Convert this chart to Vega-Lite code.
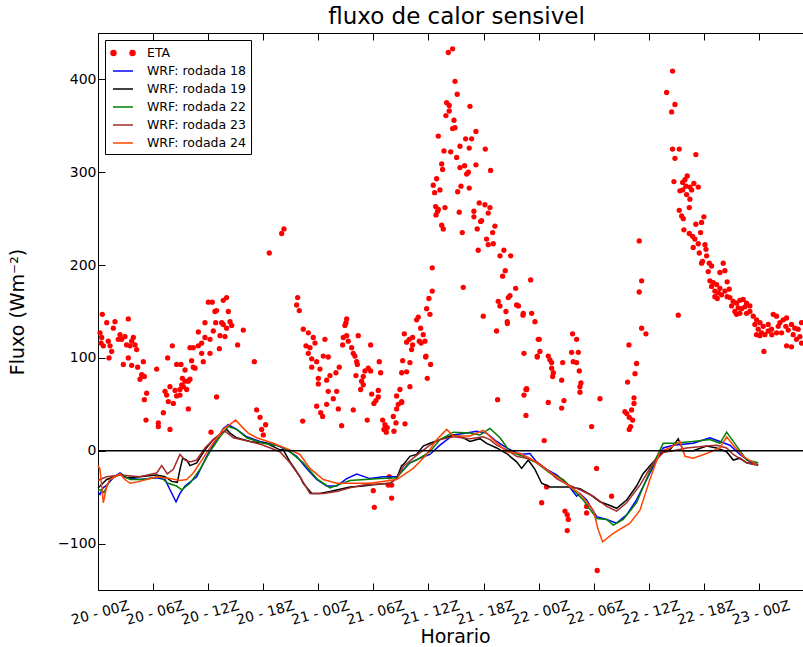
{
"$schema": "https://vega.github.io/schema/vega-lite/v6.json",
"width": 705, "height": 557,
"autosize": {"type": "none"},
"padding": {"left": 98, "top": 33, "right": 0, "bottom": 57},
"background": "white",
"title": {"text": "fluxo de calor sensivel", "fontSize": 23, "font": "DejaVu Sans", "fontWeight": "normal", "color": "black", "offset": 4, "dx": 6},
"config": {
  "font": "DejaVu Sans",
  "view": {"stroke": null},
  "axis": {"domainColor": "black", "domainWidth": 1, "tickColor": "black", "tickSize": -7, "tickWidth": 1, "grid": false, "labelColor": "black", "labelFontSize": 14, "titleColor": "black", "titleFontSize": 19, "titleFontWeight": "normal", "labelFont": "DejaVu Sans", "titleFont": "DejaVu Sans"},
  "legend": {"padding": 4, "symbolOffset": 5, "strokeColor": "black", "fillColor": "white", "cornerRadius": 0, "strokeWidth": 1, "labelFontSize": 12.5, "labelFont": "DejaVu Sans", "labelColor": "black", "symbolSize": 256, "labelOffset": 15, "rowPadding": 2, "symbolStrokeWidth": 1.5, "symbolType": "stroke"}
},
"datasets": {
"eta": [
{"hora":0.47,"fluxo":147},{"hora":0.22,"fluxo":127},{"hora":0.40,"fluxo":122},{"hora":0.33,"fluxo":116},{"hora":0.58,"fluxo":113},{"hora":1.12,"fluxo":118},{"hora":1.31,"fluxo":113},{"hora":1.49,"fluxo":107},{"hora":1.20,"fluxo":100},{"hora":0.95,"fluxo":138},{"hora":1.85,"fluxo":139},{"hora":1.67,"fluxo":132},{"hora":2.40,"fluxo":125},{"hora":2.21,"fluxo":120},{"hora":2.58,"fluxo":120},{"hora":2.94,"fluxo":123},{"hora":3.30,"fluxo":142},{"hora":3.12,"fluxo":114},{"hora":3.49,"fluxo":113},{"hora":3.67,"fluxo":118},{"hora":3.85,"fluxo":122},{"hora":4.03,"fluxo":114},{"hora":4.21,"fluxo":109},{"hora":3.30,"fluxo":100},{"hora":2.76,"fluxo":93},{"hora":3.67,"fluxo":92},{"hora":4.32,"fluxo":90},{"hora":4.94,"fluxo":96},{"hora":4.76,"fluxo":82},{"hora":5.05,"fluxo":80},{"hora":4.57,"fluxo":77},{"hora":5.30,"fluxo":62},{"hora":5.05,"fluxo":55},{"hora":5.23,"fluxo":33},{"hora":6.57,"fluxo":30},{"hora":6.57,"fluxo":26},{"hora":7.84,"fluxo":23},{"hora":7.12,"fluxo":41},{"hora":6.39,"fluxo":88},{"hora":7.59,"fluxo":100},{"hora":8.10,"fluxo":113},{"hora":8.57,"fluxo":93},{"hora":9.04,"fluxo":93},{"hora":9.48,"fluxo":87},{"hora":9.19,"fluxo":78},{"hora":9.48,"fluxo":75},{"hora":9.84,"fluxo":75},{"hora":9.30,"fluxo":69},{"hora":8.93,"fluxo":66},{"hora":8.39,"fluxo":65},{"hora":7.84,"fluxo":69},{"hora":7.30,"fluxo":64},{"hora":7.48,"fluxo":60},{"hora":7.66,"fluxo":53},{"hora":8.21,"fluxo":51},{"hora":8.57,"fluxo":59},{"hora":8.93,"fluxo":60},{"hora":9.12,"fluxo":71},{"hora":9.66,"fluxo":66},{"hora":10.02,"fluxo":77},{"hora":10.20,"fluxo":97},{"hora":10.38,"fluxo":90},{"hora":10.57,"fluxo":89},{"hora":10.02,"fluxo":111},{"hora":10.38,"fluxo":111},{"hora":10.93,"fluxo":113},{"hora":11.29,"fluxo":105},{"hora":11.47,"fluxo":96},{"hora":11.29,"fluxo":116},{"hora":11.65,"fluxo":122},{"hora":10.93,"fluxo":128},{"hora":11.65,"fluxo":138},{"hora":12.20,"fluxo":120},{"hora":12.56,"fluxo":129},{"hora":12.20,"fluxo":105},{"hora":12.02,"fluxo":160},{"hora":12.45,"fluxo":160},{"hora":12.92,"fluxo":151},{"hora":12.74,"fluxo":150},{"hora":12.82,"fluxo":138},{"hora":13.47,"fluxo":138},{"hora":13.65,"fluxo":136},{"hora":14.01,"fluxo":132},{"hora":14.38,"fluxo":139},{"hora":14.20,"fluxo":150},{"hora":13.65,"fluxo":162},{"hora":14.01,"fluxo":165},{"hora":14.56,"fluxo":135},{"hora":13.29,"fluxo":124},{"hora":13.83,"fluxo":123},{"hora":13.22,"fluxo":110},{"hora":15.21,"fluxo":114},{"hora":15.83,"fluxo":130},{"hora":17.03,"fluxo":96},{"hora":12.92,"fluxo":58},{"hora":9.84,"fluxo":45},{"hora":12.31,"fluxo":20},{"hora":17.28,"fluxo":44},{"hora":17.65,"fluxo":36},{"hora":18.26,"fluxo":28},{"hora":17.83,"fluxo":23},{"hora":18.01,"fluxo":17},
{"hora":18.66,"fluxo":213},{"hora":20.01,"fluxo":234},{"hora":20.26,"fluxo":239},{"hora":21.75,"fluxo":165},{"hora":21.64,"fluxo":157},{"hora":21.93,"fluxo":151},{"hora":22.36,"fluxo":131},{"hora":22.91,"fluxo":127},{"hora":23.45,"fluxo":122},{"hora":23.64,"fluxo":116},{"hora":22.66,"fluxo":113},{"hora":23.09,"fluxo":111},{"hora":22.91,"fluxo":105},{"hora":23.28,"fluxo":99},{"hora":23.82,"fluxo":96},{"hora":23.28,"fluxo":90},{"hora":24.18,"fluxo":88},{"hora":24.54,"fluxo":102},{"hora":25.08,"fluxo":101},{"hora":24.72,"fluxo":120},{"hora":24.00,"fluxo":78},{"hora":24.00,"fluxo":72},{"hora":24.91,"fluxo":76},{"hora":25.27,"fluxo":81},{"hora":25.08,"fluxo":64},{"hora":26.00,"fluxo":64},{"hora":25.63,"fluxo":56},{"hora":24.91,"fluxo":50},{"hora":23.82,"fluxo":48},{"hora":24.26,"fluxo":41},{"hora":24.47,"fluxo":37},{"hora":22.30,"fluxo":32},{"hora":26.18,"fluxo":45},{"hora":26.54,"fluxo":27},{"hora":26.28,"fluxo":90},{"hora":25.92,"fluxo":84},{"hora":27.09,"fluxo":142},{"hora":27.01,"fluxo":138},{"hora":26.90,"fluxo":135},{"hora":27.09,"fluxo":124},{"hora":26.72,"fluxo":122},{"hora":26.65,"fluxo":114},{"hora":27.26,"fluxo":118},{"hora":28.35,"fluxo":124},{"hora":27.63,"fluxo":111},{"hora":27.81,"fluxo":105},{"hora":27.99,"fluxo":102},{"hora":28.18,"fluxo":96},{"hora":28.25,"fluxo":93},{"hora":28.10,"fluxo":81},{"hora":28.90,"fluxo":80},{"hora":29.08,"fluxo":86},{"hora":29.44,"fluxo":89},{"hora":29.70,"fluxo":114},{"hora":29.70,"fluxo":86},{"hora":28.72,"fluxo":75},{"hora":28.61,"fluxo":66},{"hora":28.90,"fluxo":71},{"hora":27.81,"fluxo":44},{"hora":29.33,"fluxo":33},{"hora":29.81,"fluxo":61},{"hora":30.06,"fluxo":51},{"hora":30.28,"fluxo":54},{"hora":30.53,"fluxo":65},{"hora":30.53,"fluxo":58},{"hora":30.64,"fluxo":96},{"hora":30.79,"fluxo":84},{"hora":31.01,"fluxo":33},{"hora":31.26,"fluxo":28},{"hora":31.15,"fluxo":23},{"hora":31.51,"fluxo":25},{"hora":31.40,"fluxo":20},{"hora":32.24,"fluxo":21},{"hora":32.46,"fluxo":30},{"hora":32.17,"fluxo":37},{"hora":32.53,"fluxo":45},{"hora":32.71,"fluxo":50},{"hora":32.53,"fluxo":59},{"hora":32.89,"fluxo":66},{"hora":33.08,"fluxo":52},{"hora":33.44,"fluxo":29},{"hora":33.98,"fluxo":69},{"hora":33.08,"fluxo":84},{"hora":33.62,"fluxo":85},{"hora":33.19,"fluxo":97},{"hora":33.98,"fluxo":95},{"hora":33.37,"fluxo":126},{"hora":33.62,"fluxo":117},{"hora":33.91,"fluxo":120},{"hora":34.27,"fluxo":122},{"hora":34.27,"fluxo":114},{"hora":34.16,"fluxo":109},{"hora":34.71,"fluxo":141},{"hora":34.89,"fluxo":144},{"hora":35.15,"fluxo":132},{"hora":35.43,"fluxo":125},{"hora":35.62,"fluxo":118},{"hora":35.73,"fluxo":102},{"hora":35.80,"fluxo":153},{"hora":35.87,"fluxo":78},{"hora":35.20,"fluxo":116},{"hora":35.00,"fluxo":118},
{"hora":29.99,"fluxo":-43},{"hora":31.99,"fluxo":-51},{"hora":30.10,"fluxo":-61},{"hora":31.62,"fluxo":-37},{"hora":31.99,"fluxo":-37},{"hora":31.73,"fluxo":-28},
{"hora":38.16,"fluxo":429},{"hora":38.63,"fluxo":433},{"hora":38.89,"fluxo":398},{"hora":39.13,"fluxo":384},{"hora":40.52,"fluxo":371},{"hora":37.98,"fluxo":375},{"hora":38.26,"fluxo":372},{"hora":37.90,"fluxo":361},{"hora":38.26,"fluxo":366},{"hora":38.78,"fluxo":356},{"hora":38.63,"fluxo":347},{"hora":38.89,"fluxo":348},{"hora":41.17,"fluxo":344},{"hora":37.07,"fluxo":339},{"hora":40.05,"fluxo":336},{"hora":40.70,"fluxo":336},{"hora":39.43,"fluxo":328},{"hora":40.44,"fluxo":326},{"hora":42.19,"fluxo":325},{"hora":37.69,"fluxo":323},{"hora":38.42,"fluxo":322},{"hora":39.07,"fluxo":316},{"hora":37.44,"fluxo":309},{"hora":37.54,"fluxo":303},{"hora":39.43,"fluxo":305},{"hora":39.94,"fluxo":307},{"hora":41.17,"fluxo":308},{"hora":40.34,"fluxo":300},{"hora":40.16,"fluxo":298},{"hora":42.77,"fluxo":302},{"hora":36.89,"fluxo":293},{"hora":36.52,"fluxo":286},{"hora":37.25,"fluxo":281},{"hora":36.67,"fluxo":278},{"hora":39.54,"fluxo":285},{"hora":40.44,"fluxo":283},{"hora":39.18,"fluxo":279},{"hora":41.53,"fluxo":267},{"hora":42.15,"fluxo":265},{"hora":42.70,"fluxo":262},{"hora":42.51,"fluxo":256},{"hora":40.95,"fluxo":258},{"hora":40.95,"fluxo":252},{"hora":41.68,"fluxo":247},{"hora":36.78,"fluxo":263},{"hora":37.07,"fluxo":260},{"hora":37.80,"fluxo":262},{"hora":36.82,"fluxo":254},{"hora":37.00,"fluxo":258},{"hora":39.35,"fluxo":257},{"hora":37.44,"fluxo":243},{"hora":37.61,"fluxo":239},{"hora":39.68,"fluxo":235},{"hora":41.31,"fluxo":239},{"hora":43.24,"fluxo":242},{"hora":42.99,"fluxo":235},{"hora":42.33,"fluxo":228},{"hora":42.51,"fluxo":222},{"hora":43.06,"fluxo":223},{"hora":41.42,"fluxo":216},{"hora":44.22,"fluxo":216},{"hora":43.79,"fluxo":210},{"hora":44.95,"fluxo":210},{"hora":36.41,"fluxo":197},{"hora":44.36,"fluxo":194},{"hora":44.08,"fluxo":188},{"hora":47.13,"fluxo":184},{"hora":39.79,"fluxo":176},{"hora":45.50,"fluxo":175},{"hora":36.41,"fluxo":172},{"hora":44.88,"fluxo":167},{"hora":44.69,"fluxo":165},{"hora":36.05,"fluxo":164},{"hora":43.60,"fluxo":161},{"hora":43.79,"fluxo":156},{"hora":45.60,"fluxo":157},{"hora":45.80,"fluxo":156},{"hora":44.44,"fluxo":150},{"hora":44.58,"fluxo":139},{"hora":44.60,"fluxo":137},{"hora":41.97,"fluxo":145},{"hora":46.33,"fluxo":148},{"hora":46.30,"fluxo":146},{"hora":47.24,"fluxo":148},{"hora":47.60,"fluxo":139},{"hora":36.16,"fluxo":147},{"hora":35.69,"fluxo":101},{"hora":36.23,"fluxo":93},{"hora":33.08,"fluxo":53},{"hora":43.53,"fluxo":55},{"hora":46.40,"fluxo":105},{"hora":47.96,"fluxo":120},{"hora":47.85,"fluxo":102},{"hora":46.62,"fluxo":66},{"hora":46.70,"fluxo":66},{"hora":46.40,"fluxo":60},{"hora":46.62,"fluxo":38},
{"hora":41.79,"fluxo":248},{"hora":43.42,"fluxo":129},{"hora":48.07,"fluxo":120},{"hora":48.14,"fluxo":107},{"hora":47.85,"fluxo":101},{"hora":49.05,"fluxo":102},{"hora":49.23,"fluxo":98},{"hora":49.42,"fluxo":95},{"hora":49.42,"fluxo":89},{"hora":49.60,"fluxo":84},{"hora":49.53,"fluxo":80},{"hora":50.51,"fluxo":76},{"hora":50.62,"fluxo":95},{"hora":51.70,"fluxo":126},{"hora":52.14,"fluxo":120},{"hora":51.59,"fluxo":106},{"hora":52.32,"fluxo":106},{"hora":51.77,"fluxo":96},{"hora":52.14,"fluxo":95},{"hora":52.43,"fluxo":86},{"hora":52.61,"fluxo":73},{"hora":52.50,"fluxo":69},{"hora":52.50,"fluxo":63},{"hora":46.69,"fluxo":67},{"hora":49.05,"fluxo":52},{"hora":50.76,"fluxo":54},{"hora":50.51,"fluxo":46},{"hora":54.68,"fluxo":56},{"hora":53.77,"fluxo":26},{"hora":48.61,"fluxo":11},{"hora":58.96,"fluxo":226},{"hora":59.22,"fluxo":183},{"hora":58.96,"fluxo":171},{"hora":59.22,"fluxo":132},{"hora":59.69,"fluxo":126},{"hora":57.84,"fluxo":114},{"hora":58.67,"fluxo":94},{"hora":58.50,"fluxo":83},{"hora":57.69,"fluxo":74},{"hora":58.39,"fluxo":57},{"hora":58.39,"fluxo":51},{"hora":57.40,"fluxo":42},{"hora":58.13,"fluxo":44},{"hora":57.87,"fluxo":36},{"hora":58.24,"fluxo":33},{"hora":58.02,"fluxo":26},{"hora":57.87,"fluxo":23},{"hora":57.60,"fluxo":40},
{"hora":54.31,"fluxo":-19},{"hora":48.33,"fluxo":-56},{"hora":48.87,"fluxo":-39},{"hora":50.87,"fluxo":-65},{"hora":51.12,"fluxo":-69},{"hora":51.23,"fluxo":-74},{"hora":51.12,"fluxo":-86},{"hora":53.23,"fluxo":-60},{"hora":53.23,"fluxo":-67},{"hora":55.95,"fluxo":-49},{"hora":54.38,"fluxo":-129},
{"hora":62.59,"fluxo":409},{"hora":61.94,"fluxo":386},{"hora":62.85,"fluxo":373},{"hora":62.49,"fluxo":365},{"hora":62.59,"fluxo":325},{"hora":63.32,"fluxo":325},{"hora":62.85,"fluxo":315},{"hora":65.13,"fluxo":319},{"hora":62.74,"fluxo":290},{"hora":64.19,"fluxo":296},{"hora":63.94,"fluxo":292},{"hora":63.69,"fluxo":289},{"hora":64.05,"fluxo":285},{"hora":64.48,"fluxo":284},{"hora":64.91,"fluxo":288},{"hora":65.39,"fluxo":284},{"hora":63.39,"fluxo":280},{"hora":63.70,"fluxo":281},{"hora":64.12,"fluxo":276},{"hora":64.67,"fluxo":281},{"hora":64.48,"fluxo":271},{"hora":64.41,"fluxo":262},{"hora":63.32,"fluxo":259},{"hora":63.58,"fluxo":253},{"hora":63.76,"fluxo":250},{"hora":66.00,"fluxo":252},{"hora":65.75,"fluxo":246},{"hora":65.13,"fluxo":244},{"hora":65.64,"fluxo":235},{"hora":63.83,"fluxo":238},{"hora":64.41,"fluxo":234},{"hora":64.77,"fluxo":231},{"hora":65.02,"fluxo":228},{"hora":65.39,"fluxo":223},{"hora":64.84,"fluxo":219},{"hora":65.50,"fluxo":213},{"hora":66.12,"fluxo":222},{"hora":66.23,"fluxo":217},{"hora":66.30,"fluxo":210},{"hora":65.86,"fluxo":204},{"hora":65.75,"fluxo":202},{"hora":66.59,"fluxo":202},{"hora":66.48,"fluxo":193},{"hora":66.84,"fluxo":199},{"hora":68.11,"fluxo":202},{"hora":68.29,"fluxo":194},{"hora":67.75,"fluxo":192},{"hora":66.66,"fluxo":183},{"hora":67.02,"fluxo":181},{"hora":66.84,"fluxo":177},{"hora":67.39,"fluxo":179},{"hora":67.75,"fluxo":175},{"hora":67.20,"fluxo":172},{"hora":67.57,"fluxo":170},{"hora":67.20,"fluxo":166},{"hora":67.93,"fluxo":168},{"hora":68.29,"fluxo":172},{"hora":68.54,"fluxo":182},{"hora":67.46,"fluxo":164},{"hora":68.54,"fluxo":166},{"hora":68.76,"fluxo":174},{"hora":68.83,"fluxo":165},{"hora":69.19,"fluxo":161},{"hora":69.02,"fluxo":156},{"hora":69.56,"fluxo":159},{"hora":69.92,"fluxo":162},{"hora":70.28,"fluxo":163},{"hora":70.65,"fluxo":159},{"hora":71.01,"fluxo":156},{"hora":69.74,"fluxo":154},{"hora":70.11,"fluxo":153},{"hora":70.47,"fluxo":155},{"hora":69.38,"fluxo":150},{"hora":69.92,"fluxo":148},{"hora":69.56,"fluxo":147},{"hora":70.65,"fluxo":148},{"hora":71.01,"fluxo":150},{"hora":71.38,"fluxo":145},{"hora":71.74,"fluxo":141},{"hora":71.56,"fluxo":136},{"hora":72.11,"fluxo":138},{"hora":71.92,"fluxo":131},{"hora":72.47,"fluxo":134},{"hora":71.74,"fluxo":125},{"hora":72.29,"fluxo":127},{"hora":72.65,"fluxo":125},{"hora":73.01,"fluxo":129},{"hora":73.38,"fluxo":131},{"hora":73.01,"fluxo":136},{"hora":73.56,"fluxo":147},{"hora":73.92,"fluxo":145},{"hora":74.28,"fluxo":138},{"hora":74.10,"fluxo":134},{"hora":74.64,"fluxo":141},{"hora":75.01,"fluxo":143},{"hora":74.93,"fluxo":134},{"hora":75.19,"fluxo":130},{"hora":74.47,"fluxo":127},{"hora":73.92,"fluxo":127},{"hora":75.55,"fluxo":136},{"hora":75.91,"fluxo":132},{"hora":75.73,"fluxo":125},{"hora":76.27,"fluxo":131},{"hora":76.46,"fluxo":123},{"hora":76.09,"fluxo":120},{"hora":76.64,"fluxo":116},{"hora":75.01,"fluxo":113},{"hora":75.55,"fluxo":112},{"hora":72.54,"fluxo":107},{"hora":72.10,"fluxo":124},{"hora":73.40,"fluxo":125},{"hora":76.64,"fluxo":138},{"hora":63.21,"fluxo":146}
],
"r18": [
{"hora":0,"fluxo":-45},{"hora":0.22,"fluxo":-47},{"hora":0.54,"fluxo":-40},{"hora":0.95,"fluxo":-37},{"hora":1.67,"fluxo":-29},{"hora":2.40,"fluxo":-24},{"hora":3.13,"fluxo":-29},{"hora":4.57,"fluxo":-31},{"hora":6.39,"fluxo":-29},{"hora":7.30,"fluxo":-31},{"hora":7.84,"fluxo":-42},{"hora":8.50,"fluxo":-55},{"hora":8.93,"fluxo":-46},{"hora":9.48,"fluxo":-38},{"hora":10.75,"fluxo":-28},{"hora":11.84,"fluxo":-6},{"hora":12.56,"fluxo":6},{"hora":13.65,"fluxo":24},{"hora":14.19,"fluxo":28},{"hora":15.11,"fluxo":23},{"hora":16.20,"fluxo":15},{"hora":17.65,"fluxo":10},{"hora":19.46,"fluxo":6},{"hora":20.55,"fluxo":1},{"hora":21.64,"fluxo":-6},{"hora":22.73,"fluxo":-19},{"hora":23.82,"fluxo":-31},{"hora":24.91,"fluxo":-38},{"hora":26.00,"fluxo":-38},{"hora":27.09,"fluxo":-30},{"hora":28.18,"fluxo":-25},{"hora":29.63,"fluxo":-30},{"hora":31.04,"fluxo":-28},{"hora":32.53,"fluxo":-28},{"hora":33.98,"fluxo":-13},{"hora":35.07,"fluxo":-8},{"hora":36.16,"fluxo":-4},{"hora":37.25,"fluxo":6},{"hora":38.70,"fluxo":17},{"hora":40.16,"fluxo":19},{"hora":41.25,"fluxo":21},{"hora":42.34,"fluxo":19},{"hora":43.43,"fluxo":10},{"hora":44.52,"fluxo":3},{"hora":45.96,"fluxo":-4},{"hora":47.05,"fluxo":-3},{"hora":47.78,"fluxo":-12},{"hora":48.87,"fluxo":-20},{"hora":49.96,"fluxo":-26},{"hora":51.05,"fluxo":-35},{"hora":52.14,"fluxo":-49},{"hora":52.50,"fluxo":-46},{"hora":53.23,"fluxo":-53},{"hora":54.32,"fluxo":-71},{"hora":55.41,"fluxo":-74},{"hora":56.50,"fluxo":-78},{"hora":57.59,"fluxo":-69},{"hora":58.67,"fluxo":-53},{"hora":60.12,"fluxo":-24},{"hora":61.57,"fluxo":3},{"hora":62.66,"fluxo":6},{"hora":64.84,"fluxo":8},{"hora":66.66,"fluxo":14},{"hora":67.75,"fluxo":10},{"hora":68.84,"fluxo":6},{"hora":69.93,"fluxo":-4},{"hora":71.01,"fluxo":-12},{"hora":71.92,"fluxo":-15}
],
"r19": [
{"hora":0,"fluxo":-40},{"hora":0.22,"fluxo":-38},{"hora":0.95,"fluxo":-31},{"hora":2.40,"fluxo":-26},{"hora":3.13,"fluxo":-29},{"hora":4.57,"fluxo":-28},{"hora":6.39,"fluxo":-26},{"hora":7.30,"fluxo":-28},{"hora":8.03,"fluxo":-33},{"hora":8.64,"fluxo":-34},{"hora":8.93,"fluxo":-20},{"hora":9.23,"fluxo":-8},{"hora":9.66,"fluxo":-10},{"hora":10.02,"fluxo":-16},{"hora":10.75,"fluxo":-13},{"hora":11.65,"fluxo":1},{"hora":12.56,"fluxo":12},{"hora":13.47,"fluxo":19},{"hora":14.02,"fluxo":23},{"hora":14.38,"fluxo":19},{"hora":15.11,"fluxo":14},{"hora":16.56,"fluxo":10},{"hora":18.37,"fluxo":8},{"hora":19.82,"fluxo":1},{"hora":20.18,"fluxo":1},{"hora":20.91,"fluxo":-12},{"hora":21.27,"fluxo":-17},{"hora":22.00,"fluxo":-28},{"hora":22.36,"fluxo":-35},{"hora":23.28,"fluxo":-46},{"hora":24.18,"fluxo":-46},{"hora":25.27,"fluxo":-44},{"hora":27.45,"fluxo":-39},{"hora":28.90,"fluxo":-38},{"hora":29.63,"fluxo":-37},{"hora":31.80,"fluxo":-35},{"hora":32.53,"fluxo":-30},{"hora":33.08,"fluxo":-16},{"hora":33.25,"fluxo":-15},{"hora":33.98,"fluxo":-6},{"hora":34.71,"fluxo":-4},{"hora":35.43,"fluxo":5},{"hora":36.16,"fluxo":8},{"hora":37.25,"fluxo":12},{"hora":38.70,"fluxo":17},{"hora":39.79,"fluxo":14},{"hora":40.52,"fluxo":10},{"hora":41.61,"fluxo":13},{"hora":42.34,"fluxo":8},{"hora":43.43,"fluxo":3},{"hora":44.52,"fluxo":-3},{"hora":45.60,"fluxo":-12},{"hora":46.15,"fluxo":-19},{"hora":46.87,"fluxo":-10},{"hora":47.60,"fluxo":-20},{"hora":48.33,"fluxo":-35},{"hora":49.23,"fluxo":-39},{"hora":51.41,"fluxo":-39},{"hora":52.50,"fluxo":-41},{"hora":53.59,"fluxo":-47},{"hora":54.68,"fluxo":-55},{"hora":55.77,"fluxo":-59},{"hora":56.50,"fluxo":-62},{"hora":57.59,"fluxo":-53},{"hora":58.67,"fluxo":-38},{"hora":59.36,"fluxo":-25},{"hora":60.48,"fluxo":-12},{"hora":61.57,"fluxo":-1},{"hora":62.30,"fluxo":1},{"hora":62.85,"fluxo":8},{"hora":63.21,"fluxo":13},{"hora":63.76,"fluxo":0},{"hora":64.84,"fluxo":0},{"hora":66.30,"fluxo":5},{"hora":67.39,"fluxo":3},{"hora":68.48,"fluxo":-1},{"hora":69.20,"fluxo":-10},{"hora":69.93,"fluxo":-8},{"hora":70.66,"fluxo":-13},{"hora":71.75,"fluxo":-15}
],
"r22": [
{"hora":0,"fluxo":-42},{"hora":0.22,"fluxo":-42},{"hora":0.65,"fluxo":-45},{"hora":1.31,"fluxo":-31},{"hora":2.40,"fluxo":-25},{"hora":3.49,"fluxo":-31},{"hora":4.90,"fluxo":-31},{"hora":6.75,"fluxo":-28},{"hora":7.62,"fluxo":-35},{"hora":8.57,"fluxo":-38},{"hora":9.12,"fluxo":-42},{"hora":10.02,"fluxo":-35},{"hora":11.11,"fluxo":-20},{"hora":12.20,"fluxo":-1},{"hora":13.29,"fluxo":15},{"hora":14.19,"fluxo":26},{"hora":15.11,"fluxo":23},{"hora":16.20,"fluxo":14},{"hora":18.00,"fluxo":8},{"hora":19.82,"fluxo":5},{"hora":20.91,"fluxo":-1},{"hora":22.36,"fluxo":-13},{"hora":23.82,"fluxo":-30},{"hora":25.27,"fluxo":-40},{"hora":27.45,"fluxo":-32},{"hora":30.72,"fluxo":-30},{"hora":32.53,"fluxo":-29},{"hora":33.98,"fluxo":-13},{"hora":34.71,"fluxo":-10},{"hora":36.16,"fluxo":-1},{"hora":37.25,"fluxo":12},{"hora":38.70,"fluxo":20},{"hora":40.52,"fluxo":19},{"hora":41.61,"fluxo":17},{"hora":42.70,"fluxo":24},{"hora":43.79,"fluxo":14},{"hora":44.88,"fluxo":-1},{"hora":46.32,"fluxo":-6},{"hora":47.78,"fluxo":-13},{"hora":49.23,"fluxo":-24},{"hora":50.68,"fluxo":-31},{"hora":51.77,"fluxo":-42},{"hora":52.86,"fluxo":-53},{"hora":54.32,"fluxo":-73},{"hora":55.41,"fluxo":-74},{"hora":56.13,"fluxo":-80},{"hora":57.22,"fluxo":-74},{"hora":58.67,"fluxo":-56},{"hora":60.12,"fluxo":-22},{"hora":61.57,"fluxo":8},{"hora":62.66,"fluxo":8},{"hora":64.84,"fluxo":10},{"hora":66.66,"fluxo":12},{"hora":67.75,"fluxo":8},{"hora":68.48,"fluxo":20},{"hora":69.57,"fluxo":5},{"hora":70.66,"fluxo":-10},{"hora":71.92,"fluxo":-13}
],
"r23": [
{"hora":0,"fluxo":-32},{"hora":0.22,"fluxo":-31},{"hora":0.95,"fluxo":-28},{"hora":2.40,"fluxo":-26},{"hora":4.57,"fluxo":-28},{"hora":6.39,"fluxo":-24},{"hora":6.94,"fluxo":-16},{"hora":7.55,"fluxo":-25},{"hora":8.20,"fluxo":-20},{"hora":8.93,"fluxo":-4},{"hora":9.48,"fluxo":-10},{"hora":10.02,"fluxo":-12},{"hora":10.75,"fluxo":-10},{"hora":11.65,"fluxo":3},{"hora":12.56,"fluxo":12},{"hora":13.47,"fluxo":19},{"hora":13.83,"fluxo":21},{"hora":14.74,"fluxo":14},{"hora":16.56,"fluxo":10},{"hora":18.00,"fluxo":6},{"hora":19.82,"fluxo":-1},{"hora":20.91,"fluxo":-13},{"hora":22.00,"fluxo":-28},{"hora":23.09,"fluxo":-46},{"hora":24.54,"fluxo":-46},{"hora":26.00,"fluxo":-44},{"hora":27.45,"fluxo":-40},{"hora":28.90,"fluxo":-37},{"hora":31.80,"fluxo":-35},{"hora":32.53,"fluxo":-30},{"hora":33.25,"fluxo":-17},{"hora":34.71,"fluxo":-5},{"hora":36.16,"fluxo":6},{"hora":37.25,"fluxo":12},{"hora":38.70,"fluxo":15},{"hora":40.52,"fluxo":13},{"hora":41.97,"fluxo":15},{"hora":42.70,"fluxo":12},{"hora":43.43,"fluxo":6},{"hora":44.52,"fluxo":1},{"hora":45.60,"fluxo":-6},{"hora":46.69,"fluxo":-8},{"hora":47.78,"fluxo":-12},{"hora":48.87,"fluxo":-20},{"hora":49.96,"fluxo":-30},{"hora":51.05,"fluxo":-36},{"hora":52.50,"fluxo":-42},{"hora":53.95,"fluxo":-49},{"hora":55.41,"fluxo":-60},{"hora":56.50,"fluxo":-65},{"hora":57.59,"fluxo":-56},{"hora":59.04,"fluxo":-37},{"hora":60.48,"fluxo":-13},{"hora":61.57,"fluxo":-2},{"hora":62.66,"fluxo":0},{"hora":64.12,"fluxo":3},{"hora":66.30,"fluxo":5},{"hora":67.39,"fluxo":6},{"hora":68.48,"fluxo":3},{"hora":69.20,"fluxo":-4},{"hora":70.66,"fluxo":-13},{"hora":71.92,"fluxo":-16}
],
"r24": [
{"hora":0,"fluxo":-16},{"hora":0.22,"fluxo":-20},{"hora":0.58,"fluxo":-56},{"hora":0.95,"fluxo":-38},{"hora":1.31,"fluxo":-31},{"hora":1.85,"fluxo":-28},{"hora":2.40,"fluxo":-25},{"hora":2.94,"fluxo":-31},{"hora":3.49,"fluxo":-35},{"hora":4.57,"fluxo":-33},{"hora":6.39,"fluxo":-28},{"hora":7.84,"fluxo":-30},{"hora":8.93,"fluxo":-32},{"hora":9.66,"fluxo":-31},{"hora":10.38,"fluxo":-24},{"hora":11.11,"fluxo":-13},{"hora":12.38,"fluxo":6},{"hora":13.65,"fluxo":23},{"hora":15.00,"fluxo":33},{"hora":15.65,"fluxo":26},{"hora":16.37,"fluxo":19},{"hora":17.29,"fluxo":14},{"hora":19.09,"fluxo":8},{"hora":20.91,"fluxo":1},{"hora":22.00,"fluxo":-4},{"hora":23.09,"fluxo":-19},{"hora":24.54,"fluxo":-31},{"hora":26.00,"fluxo":-35},{"hora":27.45,"fluxo":-35},{"hora":29.63,"fluxo":-35},{"hora":32.53,"fluxo":-31},{"hora":34.34,"fluxo":-19},{"hora":35.80,"fluxo":-4},{"hora":36.89,"fluxo":12},{"hora":37.98,"fluxo":23},{"hora":38.70,"fluxo":16},{"hora":40.52,"fluxo":16},{"hora":41.97,"fluxo":22},{"hora":43.06,"fluxo":12},{"hora":44.52,"fluxo":-1},{"hora":45.96,"fluxo":-3},{"hora":47.05,"fluxo":-8},{"hora":48.50,"fluxo":-18},{"hora":49.96,"fluxo":-28},{"hora":51.41,"fluxo":-39},{"hora":52.50,"fluxo":-46},{"hora":53.95,"fluxo":-64},{"hora":54.49,"fluxo":-85},{"hora":54.97,"fluxo":-98},{"hora":56.13,"fluxo":-89},{"hora":57.95,"fluxo":-78},{"hora":59.04,"fluxo":-64},{"hora":60.12,"fluxo":-31},{"hora":61.21,"fluxo":-1},{"hora":62.30,"fluxo":3},{"hora":63.39,"fluxo":10},{"hora":63.94,"fluxo":-6},{"hora":64.84,"fluxo":-8},{"hora":66.30,"fluxo":-3},{"hora":67.75,"fluxo":3},{"hora":68.48,"fluxo":15},{"hora":69.20,"fluxo":6},{"hora":70.29,"fluxo":-6},{"hora":71.75,"fluxo":-15}
]
},
"resolve": {"axis": {"x": "independent"}},
"layer": [
{"data": {"name": "eta"}, "mark": {"type": "point", "filled": true, "size": 28, "opacity": 1},
 "encoding": {
  "x": {"field": "hora", "type": "quantitative", "scale": {"domain": [0, 76.8], "nice": false, "zero": false}, "axis": {"orient": "top", "labels": false, "title": null, "values": [0,6,12,18,24,30,36,42,48,54,60,66,72]}},
  "y": {"field": "fluxo", "type": "quantitative", "title": "Fluxo (Wm⁻²)", "scale": {"domain": [-150, 450], "nice": false}, "axis": {"values": [-100,0,100,200,300,400], "labelPadding": 9, "titlePadding": 30}},
  "color": {"datum": "ETA", "scale": {"domain": ["ETA","WRF: rodada 18","WRF: rodada 19","WRF: rodada 22","WRF: rodada 23","WRF: rodada 24"], "range": ["#ff0000","#0000ff","#000000","#007f00","#a52a2a","#ff4500"]},
   "legend": {"title": null, "orient": "top-left", "offset": 7, "encode": {"symbols": {"update": {"shape": {"signal": "datum.value === 'ETA' ? 'M-1.5,0A0.31,0.31,0,1,1,-0.88,0A0.31,0.31,0,1,1,-1.5,0ZM0.88,0A0.31,0.31,0,1,1,1.5,0A0.31,0.31,0,1,1,0.88,0Z' : 'M-1.25,0L1.25,0'"}, "fill": {"signal": "datum.value === 'ETA' ? '#ff0000' : 'transparent'"}, "stroke": {"signal": "datum.value === 'ETA' ? 'transparent' : scale('color', datum.value)"}, "strokeWidth": {"value": 1.5}, "opacity": {"value": 1}}}}}}
 }},
{"data": {"name": "r18"}, "mark": {"type": "line", "strokeWidth": 1.5},
 "encoding": {
  "x": {"field": "hora", "type": "quantitative", "scale": {"domain": [0, 76.8], "nice": false, "zero": false}, "axis": {"orient": "bottom", "title": "Horario", "titleX": 357, "values": [0,6,12,18,24,30,36,42,48,54,60,66,72], "labelOverlap": false, "labelExpr": "toString(20 + floor(datum.value / 24)) + ' - ' + (datum.value % 24 < 10 ? '0' : '') + toString(datum.value % 24) + 'Z'", "labelAngle": -15, "labelAlign": "center", "labelBaseline": "top", "labelPadding": 23, "titlePadding": 0}},
  "y": {"field": "fluxo", "type": "quantitative", "title": "Fluxo (Wm⁻²)", "axis": {"values": [-100,0,100,200,300,400], "labelPadding": 9, "titlePadding": 30}},
  "color": {"datum": "WRF: rodada 18", "legend": {"title": null, "orient": "top-left", "offset": 7, "encode": {"symbols": {"update": {"shape": {"signal": "datum.value === 'ETA' ? 'M-1.5,0A0.31,0.31,0,1,1,-0.88,0A0.31,0.31,0,1,1,-1.5,0ZM0.88,0A0.31,0.31,0,1,1,1.5,0A0.31,0.31,0,1,1,0.88,0Z' : 'M-1.25,0L1.25,0'"}, "fill": {"signal": "datum.value === 'ETA' ? '#ff0000' : 'transparent'"}, "stroke": {"signal": "datum.value === 'ETA' ? 'transparent' : scale('color', datum.value)"}, "strokeWidth": {"value": 1.5}, "opacity": {"value": 1}}}}}}
 }},
{"data": {"name": "r19"}, "mark": {"type": "line", "strokeWidth": 1.5},
 "encoding": {
  "x": {"field": "hora", "type": "quantitative", "axis": null},
  "y": {"field": "fluxo", "type": "quantitative", "title": "Fluxo (Wm⁻²)", "axis": {"values": [-100,0,100,200,300,400], "labelPadding": 9, "titlePadding": 30}},
  "color": {"datum": "WRF: rodada 19", "legend": {"title": null, "orient": "top-left", "offset": 7, "encode": {"symbols": {"update": {"shape": {"signal": "datum.value === 'ETA' ? 'M-1.5,0A0.31,0.31,0,1,1,-0.88,0A0.31,0.31,0,1,1,-1.5,0ZM0.88,0A0.31,0.31,0,1,1,1.5,0A0.31,0.31,0,1,1,0.88,0Z' : 'M-1.25,0L1.25,0'"}, "fill": {"signal": "datum.value === 'ETA' ? '#ff0000' : 'transparent'"}, "stroke": {"signal": "datum.value === 'ETA' ? 'transparent' : scale('color', datum.value)"}, "strokeWidth": {"value": 1.5}, "opacity": {"value": 1}}}}}}
 }},
{"data": {"name": "r22"}, "mark": {"type": "line", "strokeWidth": 1.5},
 "encoding": {
  "x": {"field": "hora", "type": "quantitative", "axis": null},
  "y": {"field": "fluxo", "type": "quantitative", "title": "Fluxo (Wm⁻²)", "axis": {"values": [-100,0,100,200,300,400], "labelPadding": 9, "titlePadding": 30}},
  "color": {"datum": "WRF: rodada 22", "legend": {"title": null, "orient": "top-left", "offset": 7, "encode": {"symbols": {"update": {"shape": {"signal": "datum.value === 'ETA' ? 'M-1.5,0A0.31,0.31,0,1,1,-0.88,0A0.31,0.31,0,1,1,-1.5,0ZM0.88,0A0.31,0.31,0,1,1,1.5,0A0.31,0.31,0,1,1,0.88,0Z' : 'M-1.25,0L1.25,0'"}, "fill": {"signal": "datum.value === 'ETA' ? '#ff0000' : 'transparent'"}, "stroke": {"signal": "datum.value === 'ETA' ? 'transparent' : scale('color', datum.value)"}, "strokeWidth": {"value": 1.5}, "opacity": {"value": 1}}}}}}
 }},
{"data": {"name": "r23"}, "mark": {"type": "line", "strokeWidth": 1.5},
 "encoding": {
  "x": {"field": "hora", "type": "quantitative", "axis": null},
  "y": {"field": "fluxo", "type": "quantitative", "title": "Fluxo (Wm⁻²)", "axis": {"values": [-100,0,100,200,300,400], "labelPadding": 9, "titlePadding": 30}},
  "color": {"datum": "WRF: rodada 23", "legend": {"title": null, "orient": "top-left", "offset": 7, "encode": {"symbols": {"update": {"shape": {"signal": "datum.value === 'ETA' ? 'M-1.5,0A0.31,0.31,0,1,1,-0.88,0A0.31,0.31,0,1,1,-1.5,0ZM0.88,0A0.31,0.31,0,1,1,1.5,0A0.31,0.31,0,1,1,0.88,0Z' : 'M-1.25,0L1.25,0'"}, "fill": {"signal": "datum.value === 'ETA' ? '#ff0000' : 'transparent'"}, "stroke": {"signal": "datum.value === 'ETA' ? 'transparent' : scale('color', datum.value)"}, "strokeWidth": {"value": 1.5}, "opacity": {"value": 1}}}}}}
 }},
{"data": {"name": "r24"}, "mark": {"type": "line", "strokeWidth": 1.5},
 "encoding": {
  "x": {"field": "hora", "type": "quantitative", "axis": null},
  "y": {"field": "fluxo", "type": "quantitative", "title": "Fluxo (Wm⁻²)", "axis": {"values": [-100,0,100,200,300,400], "labelPadding": 9, "titlePadding": 30}},
  "color": {"datum": "WRF: rodada 24", "legend": {"title": null, "orient": "top-left", "offset": 7, "encode": {"symbols": {"update": {"shape": {"signal": "datum.value === 'ETA' ? 'M-1.5,0A0.31,0.31,0,1,1,-0.88,0A0.31,0.31,0,1,1,-1.5,0ZM0.88,0A0.31,0.31,0,1,1,1.5,0A0.31,0.31,0,1,1,0.88,0Z' : 'M-1.25,0L1.25,0'"}, "fill": {"signal": "datum.value === 'ETA' ? '#ff0000' : 'transparent'"}, "stroke": {"signal": "datum.value === 'ETA' ? 'transparent' : scale('color', datum.value)"}, "strokeWidth": {"value": 1.5}, "opacity": {"value": 1}}}}}}
 }},
{"data": {"values": [{}]}, "mark": {"type": "rule", "color": "black", "strokeWidth": 1.5},
 "encoding": {"y": {"datum": 0, "type": "quantitative", "title": "Fluxo (Wm⁻²)", "axis": {"values": [-100,0,100,200,300,400], "labelPadding": 9, "titlePadding": 30}}}}
]
}
